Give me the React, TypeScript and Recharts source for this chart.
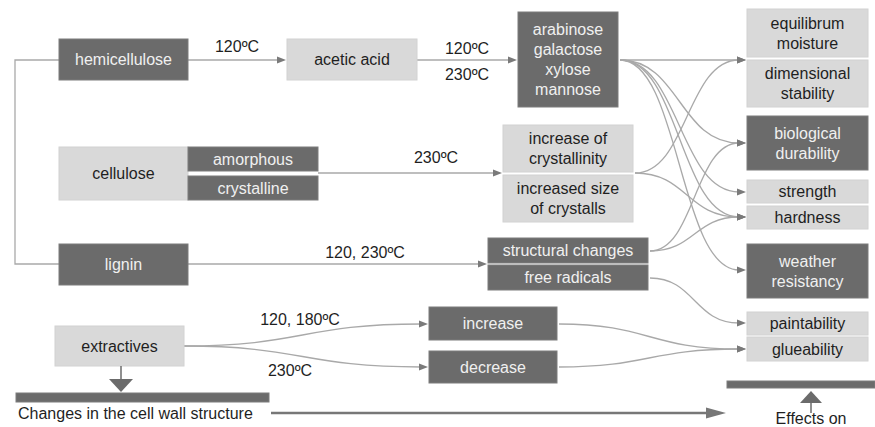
import React from 'react';
import { ComposedChart, Scatter, XAxis, YAxis } from 'recharts';

const W = 875;
const H = 427;
const FONT = '"Liberation Sans", Arial, sans-serif';
const DARK = '#6b6b6b';
const LIGHT = '#d9d9d9';
const LINK = '#a9a9a9';
const HEAD = '#7a7a7a';

type Node = { lines: string[]; tone: 'dark' | 'light'; box: [number, number, number, number] };

// wood components (left column)
const components: Node[] = [
  { lines: ['hemicellulose'], tone: 'dark', box: [59, 39, 188, 80] },
  { lines: ['cellulose'], tone: 'light', box: [59, 147, 188, 200] },
  { lines: ['amorphous'], tone: 'dark', box: [188, 147, 318, 171] },
  { lines: ['crystalline'], tone: 'dark', box: [188, 176, 318, 200] },
  { lines: ['lignin'], tone: 'dark', box: [59, 244, 188, 285] },
  { lines: ['extractives'], tone: 'light', box: [55, 326, 184, 366] },
];

// degradation products / structural changes (middle)
const products: Node[] = [
  { lines: ['acetic acid'], tone: 'light', box: [287, 39, 417, 80] },
  { lines: ['arabinose', 'galactose', 'xylose', 'mannose'], tone: 'dark', box: [518, 12, 618, 107] },
  { lines: ['increase of', 'crystallinity'], tone: 'light', box: [503, 125, 633, 172] },
  { lines: ['increased size', 'of crystalls'], tone: 'light', box: [503, 175, 633, 222] },
  { lines: ['structural changes'], tone: 'dark', box: [488, 238, 648, 263] },
  { lines: ['free radicals'], tone: 'dark', box: [488, 265, 648, 290] },
  { lines: ['increase'], tone: 'dark', box: [429, 307, 557, 340] },
  { lines: ['decrease'], tone: 'dark', box: [429, 351, 557, 383] },
];

// wood properties (right column)
const effects: Node[] = [
  { lines: ['equilibrum', 'moisture'], tone: 'light', box: [747, 9, 868, 57] },
  { lines: ['dimensional', 'stability'], tone: 'light', box: [747, 60, 868, 107] },
  { lines: ['biological', 'durability'], tone: 'dark', box: [747, 116, 868, 170] },
  { lines: ['strength'], tone: 'light', box: [747, 180, 868, 203] },
  { lines: ['hardness'], tone: 'light', box: [747, 206, 868, 229] },
  { lines: ['weather', 'resistancy'], tone: 'dark', box: [747, 244, 868, 298] },
  { lines: ['paintability'], tone: 'light', box: [747, 312, 868, 335] },
  { lines: ['glueability'], tone: 'light', box: [747, 337, 868, 361] },
];

const bars: Node[] = [
  { lines: [], tone: 'dark', box: [16, 393, 269, 402] },
  { lines: [], tone: 'dark', box: [727, 381, 875, 388] },
];

// flows: [sourceX, sourceY, targetX, targetY]
const flows: [number, number, number, number][] = [
  [188, 60, 287, 60],
  [417, 60, 518, 60],
  [318, 173, 503, 173],
  [188, 264, 488, 264],
  [184, 346, 429, 324],
  [184, 346, 429, 367],
  [620, 60, 747, 60],
  [620, 60, 747, 143],
  [620, 60, 747, 192],
  [620, 60, 747, 217],
  [620, 60, 747, 270],
  [635, 173, 747, 60],
  [635, 173, 747, 217],
  [650, 251, 747, 143],
  [650, 251, 747, 217],
  [650, 278, 747, 323],
  [559, 324, 747, 349],
  [559, 367, 747, 349],
];

const temperatures = [
  { text: '120ºC', x: 237, y: 46 },
  { text: '120ºC', x: 467, y: 48 },
  { text: '230ºC', x: 467, y: 74 },
  { text: '230ºC', x: 436, y: 157 },
  { text: '120, 230ºC', x: 365, y: 252 },
  { text: '120, 180ºC', x: 300, y: 319 },
  { text: '230ºC', x: 290, y: 370 },
];

const captions = [
  { text: 'Changes in the cell wall structure', x: 18, y: 413, anchor: 'start' },
  { text: 'Effects on', x: 811, y: 418, anchor: 'middle' },
];

const bracket = [
  { x: 59, y: 60 },
  { x: 15, y: 60 },
  { x: 15, y: 264 },
  { x: 59, y: 264 },
];

const timeline = [
  { x: 271, y: 413 },
  { x: 708, y: 413 },
];

const pointers = [
  { x: 121, y: 366, dir: 'down' },
  { x: 811, y: 391, dir: 'up' },
  { x: 726, y: 413, dir: 'right' },
];

const toPoints = (nodes: Node[]) =>
  nodes.map((n) => ({ ...n, x: (n.box[0] + n.box[2]) / 2, y: (n.box[1] + n.box[3]) / 2 }));

const BoxShape = (props: any) => {
  const { cx, cy, payload } = props;
  const [x0, y0, x1, y1] = payload.box;
  const w = x1 - x0;
  const h = y1 - y0;
  const dark = payload.tone === 'dark';
  const n = payload.lines.length;
  return (
    <g>
      <rect x={cx - w / 2} y={cy - h / 2} width={w} height={h} fill={dark ? DARK : LIGHT} stroke={dark ? '#7d7d7d' : '#d2d2d2'} strokeWidth={1} />
      {payload.lines.map((t: string, i: number) => (
        <text
          key={i}
          x={cx}
          y={cy + (i - (n - 1) / 2) * 20}
          dy="0.35em"
          textAnchor="middle"
          fontFamily={FONT}
          fontSize={16}
          fill={dark ? '#f0f0f0' : '#1f1f1f'}
        >
          {t}
        </text>
      ))}
    </g>
  );
};

const FlowShape = (props: any) => {
  const { cx, cy, payload } = props;
  const x0 = cx;
  const y0 = cy;
  const x1 = cx + (payload.tx - payload.x);
  const y1 = cy + (payload.ty - payload.y);
  const xe = x1 - 8;
  const mx = (x0 + xe) / 2;
  return (
    <g>
      <path d={`M${x0},${y0} C${mx},${y0} ${mx},${y1} ${xe},${y1}`} fill="none" stroke={LINK} strokeWidth={1.3} />
      <polygon points={`${x1 - 1},${y1} ${x1 - 10},${y1 - 3.5} ${x1 - 10},${y1 + 3.5}`} fill={HEAD} />
    </g>
  );
};

const LabelShape = (props: any) => {
  const { cx, cy, payload } = props;
  return (
    <text x={cx} y={cy} dy="0.35em" textAnchor={payload.anchor || 'middle'} fontFamily={FONT} fontSize={16} fill="#1f1f1f">
      {payload.text}
    </text>
  );
};

const PointerShape = (props: any) => {
  const { cx, cy, payload } = props;
  if (payload.dir === 'down') {
    return (
      <g>
        <line x1={cx} y1={cy} x2={cx} y2={cy + 14} stroke={DARK} strokeWidth={1.5} />
        <polygon points={`${cx - 12},${cy + 13} ${cx + 12},${cy + 13} ${cx},${cy + 26}`} fill={DARK} />
      </g>
    );
  }
  if (payload.dir === 'up') {
    return (
      <g>
        <polygon points={`${cx},${cy} ${cx - 11},${cy + 12} ${cx + 11},${cy + 12}`} fill={DARK} />
        <line x1={cx} y1={cy + 11} x2={cx} y2={cy + 22} stroke={DARK} strokeWidth={1.5} />
      </g>
    );
  }
  return <polygon points={`${cx},${cy} ${cx - 20},${cy - 5.5} ${cx - 20},${cy + 5.5}`} fill="#777" />;
};

const Empty = () => <g />;

export default function App() {
  const flowData = flows.map(([x, y, tx, ty]) => ({ x, y, tx, ty }));
  return (
    <div style={{ position: 'absolute', left: 0, top: 0, width: W, height: H, background: '#fff' }}>
      <ComposedChart width={W} height={H} margin={{ top: 0, right: 0, bottom: 0, left: 0 }}>
        <XAxis type="number" dataKey="x" domain={[0, W]} hide />
        <YAxis type="number" dataKey="y" domain={[0, H]} reversed hide />
        <Scatter data={bracket} line={{ stroke: LINK, strokeWidth: 1.3 }} lineType="joint" shape={Empty} isAnimationActive={false} />
        <Scatter data={timeline} line={{ stroke: '#777', strokeWidth: 2.5 }} lineType="joint" shape={Empty} isAnimationActive={false} />
        <Scatter data={flowData} shape={FlowShape} isAnimationActive={false} />
        <Scatter data={toPoints(components)} shape={BoxShape} isAnimationActive={false} />
        <Scatter data={toPoints(products)} shape={BoxShape} isAnimationActive={false} />
        <Scatter data={toPoints(effects)} shape={BoxShape} isAnimationActive={false} />
        <Scatter data={toPoints(bars)} shape={BoxShape} isAnimationActive={false} />
        <Scatter data={pointers} shape={PointerShape} isAnimationActive={false} />
        <Scatter data={temperatures} shape={LabelShape} isAnimationActive={false} />
        <Scatter data={captions} shape={LabelShape} isAnimationActive={false} />
      </ComposedChart>
    </div>
  );
}
